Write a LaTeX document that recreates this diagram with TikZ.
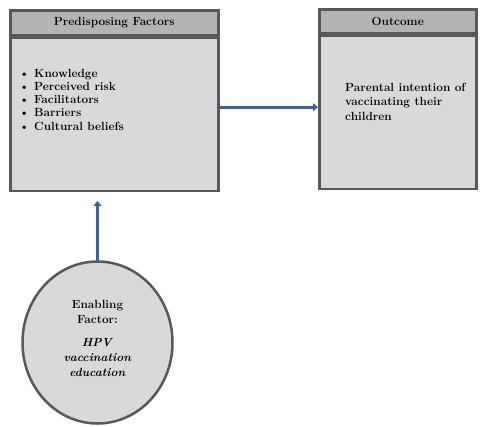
\documentclass[tikz,border=0pt]{standalone}
\usepackage{tikz}
\usetikzlibrary{
  positioning,
  calc,
  arrows.meta,
  shapes.geometric
}
\definecolor{boxGray}{HTML}{D9D9D9}
\definecolor{headGray}{HTML}{B4B4B4}
\definecolor{edgeGray}{HTML}{595959}
\definecolor{flowBlue}{HTML}{3B6397}
\tikzstyle{head}=[draw=edgeGray, fill=headGray, line width=2.5pt, inner sep=0pt, font=\bfseries\fontsize{11.8}{13}\selectfont]
\tikzstyle{body}=[draw=edgeGray, fill=boxGray, line width=2.5pt, inner sep=0pt]
\tikzstyle{flow}=[-{Triangle[length=5pt, width=8pt]}, flowBlue, line width=3.5pt]
\tikzstyle{txt}=[inner sep=0pt, align=left, font=\bfseries\fontsize{11.8}{13.2}\selectfont]

\begin{document}
\begin{tikzpicture}[x=1pt, y=-1pt]
      \useasboundingbox (0,0) rectangle (484,426);
      \def\bul{\makebox[15pt][l]{\textbullet}}

      % 左の箱
      \node[head, minimum width=208, minimum height=25, anchor=north west] (pfhead) at (9,9) {Predisposing Factors};
      \node[body, below=0pt of pfhead, minimum width=208, minimum height=153] (pfbody) {};
      \node[txt, anchor=north west] (pflist) at (19,69) {%
        \bul Knowledge\\ \bul Perceived risk\\ \bul Facilitators\\ \bul Barriers\\ \bul Cultural beliefs};

      % 右の箱
      \node[head, minimum width=157, minimum height=24, anchor=north west] (ochead) at (318,8) {Outcome};
      \node[body, below=0pt of ochead, minimum width=157, minimum height=153] (ocbody) {};
      \node[txt, anchor=north west, font=\bfseries\fontsize{11.8}{14.5}\selectfont] (octext) at (345,83) {%
        Parental intention of\\ vaccinating their\\ children};

      % 円
      \node[ellipse, draw=edgeGray, fill=boxGray, line width=2.5pt, minimum width=150, minimum height=162] (enab) at (97.5,342.5) {};
      \node[txt, align=center, font=\bfseries\fontsize{11.8}{15}\selectfont] (enabtext) at ([yshift=4pt]enab.center) {%
        Enabling\\ Factor:\\[8pt] \textit{HPV}\\ \textit{vaccination}\\ \textit{education}};

      % 矢印
      \draw[flow] ([yshift=7pt]pfbody.east) -- ([yshift=7pt]pfbody.east -| ocbody.west);
      \draw[flow] ([yshift=-2pt]enab.north) -- ([yshift=-9pt]pfbody.south -| enab.north);
    \end{tikzpicture}
\end{document}
